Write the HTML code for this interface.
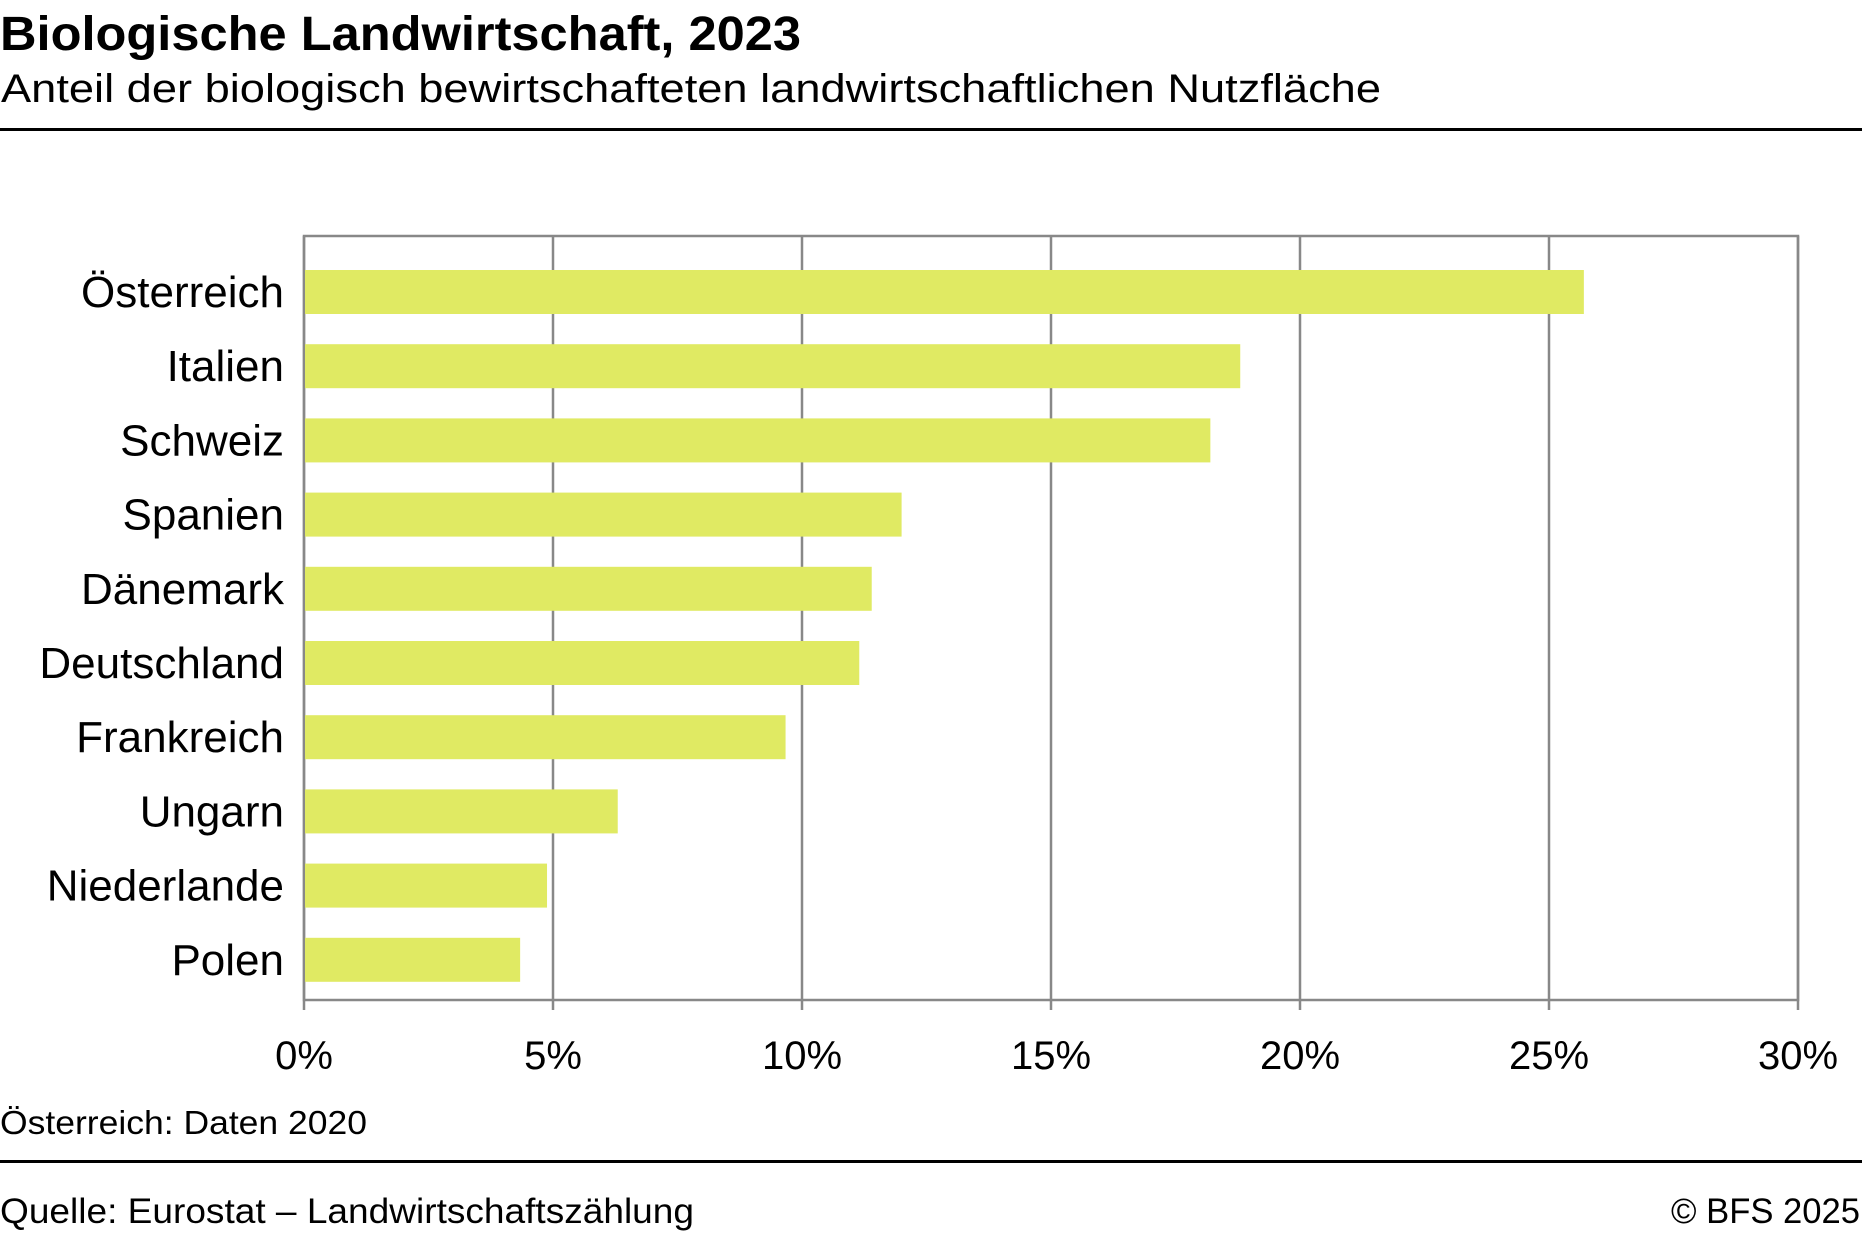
<!DOCTYPE html>
<html><head><meta charset="utf-8"><style>html,body{margin:0;padding:0;background:#fff}svg{display:block}text{font-family:"Liberation Sans",sans-serif;fill:#000}</style></head>
<body>
<svg id="chart" width="1862" height="1236" viewBox="0 0 1862 1236" xmlns="http://www.w3.org/2000/svg">
<text x="0" y="50" font-size="48" font-weight="bold" textLength="801" lengthAdjust="spacingAndGlyphs">Biologische Landwirtschaft, 2023</text>
<text x="1" y="102" font-size="40" textLength="1380" lengthAdjust="spacingAndGlyphs">Anteil der biologisch bewirtschafteten landwirtschaftlichen Nutzfläche</text>
<rect x="0" y="128" width="1862" height="3" fill="#000"/>
<g id="plot"></g>
<text x="0" y="1134" font-size="33" textLength="367" lengthAdjust="spacingAndGlyphs">Österreich: Daten 2020</text>
<rect x="0" y="1160" width="1862" height="3" fill="#000"/>
<text x="0" y="1223" font-size="35" textLength="694" lengthAdjust="spacingAndGlyphs">Quelle: Eurostat –  Landwirtschaftszählung</text>
<text x="1860" y="1223" font-size="35" text-anchor="end" textLength="189" lengthAdjust="spacingAndGlyphs">© BFS 2025</text>
</svg>
<script>
const categories = ["Österreich","Italien","Schweiz","Spanien","Dänemark","Deutschland","Frankreich","Ungarn","Niederlande","Polen"];
const values = [25.7,18.8,18.2,12.0,11.4,11.15,9.67,6.3,4.88,4.34];
const tickValues = [0,5,10,15,20,25,30];
const tickLabels = ["0%","5%","10%","15%","20%","25%","30%"];

const NS = "http://www.w3.org/2000/svg";
const g = document.getElementById("plot");
const X0 = 304, X1 = 1798, XMAX = 30;
const Y0 = 236, Y1 = 1000;
const x = v => X0 + (v / XMAX) * (X1 - X0);
const firstCenter = 292, pitch = 74.2, barH = 44;
const yc = i => firstCenter + i * pitch;

function mk(tag, attrs) {
  const e = document.createElementNS(NS, tag);
  for (const k in attrs) e.setAttribute(k, attrs[k]);
  g.appendChild(e);
  return e;
}
let fr = mk("rect", {x: X0, y: Y0, width: X1 - X0, height: Y1 - Y0, fill: "none", stroke: "#888", "stroke-width": 2.5});


tickValues.forEach((t, i) => {
  const gl = mk("line", {x1: x(t), x2: x(t), y1: Y0, y2: Y1 + 10, stroke: "#888", "stroke-width": 2.5});
  
  
  const tl = mk("text", {x: x(t), y: 1069, "font-size": 40, "text-anchor": "middle"});
  tl.textContent = tickLabels[i];
  
  
});
categories.forEach((c, i) => {
  const b = mk("rect", {x: X0 + 1, y: yc(i) - barH / 2, width: x(values[i]) - X0 - 1, height: barH, fill: "#e0ea63"});
  
  
  const l = mk("text", {x: 284, y: yc(i) + 15, "font-size": 44, "text-anchor": "end"});
  l.textContent = c;
  
  
});
</script>
</body></html>
